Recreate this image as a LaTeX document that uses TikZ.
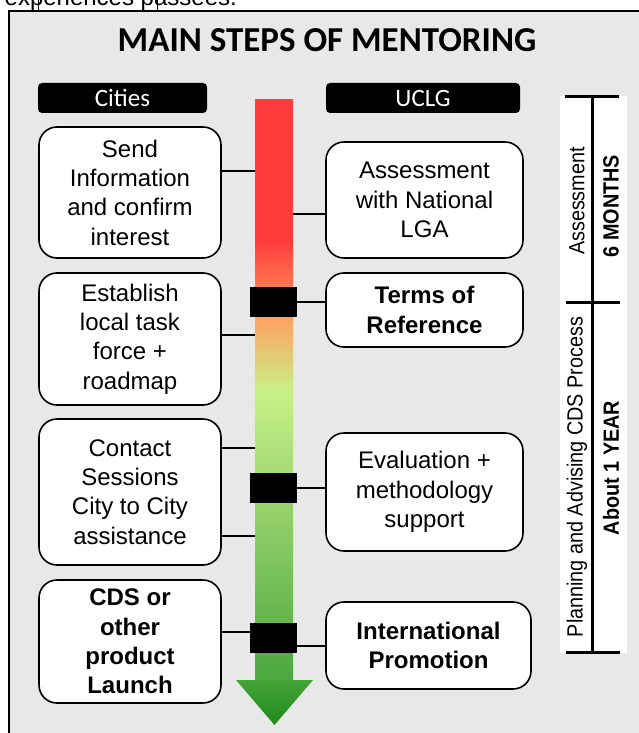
\documentclass[tikz,border=0pt]{standalone}
\usepackage{fontspec}
\setmainfont{Liberation Sans}
\newfontfamily\calfont{Carlito}
\newfontfamily\narrowfont[FakeStretch=0.9]{Liberation Sans}
\usetikzlibrary{positioning}
\definecolor{panelgray}{HTML}{E8E8E8}
\definecolor{barred}{HTML}{FF3B3B}
\definecolor{barorange}{HTML}{FFA262}
\definecolor{barlime}{HTML}{C8F088}
\definecolor{bargreen}{HTML}{4CA640}
\definecolor{headgreen}{HTML}{44A437}
\definecolor{tipgreen}{HTML}{1E8A1A}
\tikzstyle{city} = [rectangle, rounded corners = 18pt, minimum width = 182pt, inner sep = 0pt, text centered, align = center, draw = black, line width = 1.6pt, fill = white, font = \fontsize{24}{29.3}\selectfont]
\tikzstyle{uclg} = [city, minimum width = 197pt]
\tikzstyle{head} = [rectangle, rounded corners = 4pt, minimum height = 30pt, inner sep = 0pt, fill = black, text = white, font = \calfont\fontsize{25}{30}\selectfont]
\tikzstyle{marker} = [rectangle, minimum width = 47pt, minimum height = 30pt, inner sep = 0pt, fill = black]
\tikzstyle{period} = [rotate = 90, inner sep = 0pt, font = \narrowfont\fontsize{22}{26}\selectfont]
\tikzstyle{duration} = [rotate = 90, inner sep = 0pt, font = \narrowfont\bfseries\fontsize{22}{26}\selectfont]
\tikzstyle{line} = [line width = 1.4pt]
\tikzstyle{scale bar} = [line width = 3pt]

\begin{document}
\begin{tikzpicture}[x = 1pt, y = -1pt]
    \useasboundingbox (0,0) rectangle (639,733);
    % text of the page above
    \node(prev)[anchor = base west, inner sep = 0pt, font = \fontsize{24}{29}\selectfont] at (4.5,5.5){expériences passées.};
    \draw[line width = 1pt] (38,-2) -- (38,11) (157,-2) -- (157,11);
    % panel
    \draw[fill = panelgray, line width = 1.5pt] (645,11) -- (9,11) -- (9,740);
    \fill[panelgray] (10,12) rectangle (645,740);
    \node(title)[font = \calfont\bfseries\fontsize{35}{40}\selectfont, inner sep = 0pt, anchor = base] at (327,52){MAIN STEPS OF MENTORING};
    \node(hcit)[head, minimum width = 169pt] at (122.5,98){Cities};
    \node(hucl)[head, minimum width = 194pt] at (423,98){UCLG};

    % gradient arrow
    \node(bar)[minimum width = 38pt, minimum height = 581pt, inner sep = 0pt] at (274,389.5){};
    \fill[barred] (255,99) rectangle (293,240.5);
    \shade[top color = barred, bottom color = barorange] (255,240) rectangle (293,318.5);
    \shade[top color = barorange, bottom color = barlime] (255,318) rectangle (293,390.5);
    \shade[top color = barlime, bottom color = bargreen] (255,390) rectangle (293,680.5);
    \shade[top color = headgreen, bottom color = tipgreen] (236,680) -- (313,680) -- (274.5,725) -- cycle;

    % Cities
    \node(cit1)[city, minimum height = 131pt] at (130,192.5){Send\\Information\\and confirm\\interest};
    \node(cit2)[city, minimum height = 132pt] at (130,339){Establish\\local task\\force +\\roadmap};
    \node(cit3)[city, minimum height = 146pt] at (130,492){Contact\\Sessions\\City to City\\assistance};
    \node(cit4)[city, minimum height = 123pt, font = \bfseries\fontsize{24}{29.3}\selectfont] at (130,641.5){CDS or\\other\\product\\Launch};

    % UCLG
    \node(ucl1)[uclg, minimum height = 116pt] at (424.5,200){Assessment\\with National\\LGA};
    \node(ucl2)[uclg, minimum height = 74pt, font = \bfseries\fontsize{24}{29.3}\selectfont] at (424.5,310){Terms of\\Reference};
    \node(ucl3)[uclg, minimum height = 118pt] at (424.5,492){Evaluation +\\methodology\\support};
    \node(ucl4)[uclg, minimum width = 205pt, minimum height = 87pt, font = \bfseries\fontsize{24}{29.3}\selectfont] at (428.5,645.5){International\\Promotion};

    % markers on the arrow
    \node(sq1)[marker] at (273.5,302){};
    \node(sq2)[marker] at (273.5,488){};
    \node(sq3)[marker] at (273.5,638){};

    \draw[line](cit1.east |- 0,171)--(bar.west |- 0,171);
    \draw[line](cit2.east |- 0,335)--(bar.west |- 0,335);
    \draw[line](cit3.east |- 0,448)--(bar.west |- 0,448);
    \draw[line](cit3.east |- 0,536)--(bar.west |- 0,536);
    \draw[line](cit4.east |- 0,632)--(sq3.west |- 0,632);
    \draw[line](bar.east |- 0,214)--(ucl1.west |- 0,214);
    \draw[line](sq1.east)--(ucl2.west |- sq1.east);
    \draw[line](sq2.east)--(ucl3.west |- sq2.east);
    \draw[line](sq3.east |- 0,646)--(ucl4.west |- 0,646);

    % time scale
    \fill[white] (560,96) rectangle (627,653);
    \coordinate(ttop) at (592,97);
    \coordinate(tmid) at (592,302);
    \coordinate(tbot) at (592,652);
    \draw[scale bar](ttop)--(tbot);
    \draw[scale bar](565,97)--(619,97);
    \draw[scale bar](566,302)--(620,302);
    \draw[scale bar](566,652)--(620,652);
    \node(assess)[period] at (577,201){Assessment};
    \node(months)[duration] at (611,206){6 MONTHS};
    \node(plan)[period] at (577,477){Planning and Advising CDS Process};
    \node(year)[duration] at (611,468){About 1 YEAR};
\end{tikzpicture}
\end{document}
